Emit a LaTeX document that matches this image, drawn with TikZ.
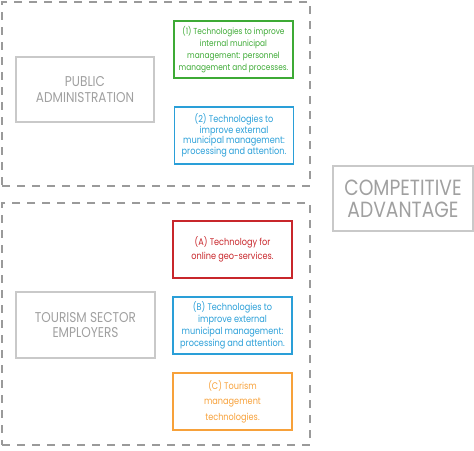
\documentclass[tikz,border=0pt]{standalone}
\usepackage{fontspec}
\setmainfont{Poppins}[FakeStretch=0.85]
\definecolor{cgreen}{HTML}{3DAA35}
\definecolor{cblue}{HTML}{2A9FD8}
\definecolor{cred}{HTML}{C8262B}
\definecolor{corange}{HTML}{F7A13A}
\definecolor{cgraytext}{HTML}{A0A0A0}
\definecolor{cgrayline}{HTML}{C9C9C9}
\definecolor{cdash}{HTML}{9A9A9A}
\tikzset{
  group/.style={draw=cdash, line width=2pt, dash pattern=on 8pt off 7pt, minimum width=308pt},
  actor/.style={draw=cgrayline, line width=1.4pt, text=cgraytext, align=center, font=\fontsize{14.2}{15.5}\selectfont, inner sep=0pt},
  tech/.style={line width=1.4pt, align=center, minimum width=119pt, minimum height=57pt, inner sep=0pt},
}
\begin{document}
\begin{tikzpicture}[x=1pt,y=-1pt]
\useasboundingbox (0,0) rectangle (474,450);
\node[group, minimum height=184pt] (g1) at (156,94) {};
\node[group, minimum height=242pt] (g2) at (156,324) {};
\node[actor, minimum width=138pt, minimum height=65pt] (pa) at (85,89.5) {PUBLIC\\ADMINISTRATION};
\node[actor, minimum width=139pt, minimum height=66pt] (ts) at (85.5,325) {TOURISM SECTOR\\EMPLOYERS};
\node[actor, minimum width=140pt, minimum height=65pt, font=\fontsize{22}{22}\selectfont] (ca) at (403,198.5) {COMPETITIVE\\ADVANTAGE};
\node[tech, draw=cgreen, text=cgreen, font=\fontsize{8.7}{12}\selectfont] (t1) at (233.5,49.5) {(1) Technologies to improve\\internal municipal\\management: personnel\\management and processes.};
\node[tech, draw=cblue, text=cblue, font=\fontsize{9.6}{10.6}\selectfont] (t2) at (234,135.5) {(2) Technologies to\\improve external\\municipal management:\\processing and attention.};
\node[tech, draw=cred, text=cred, font=\fontsize{9.6}{14}\selectfont] (ta) at (232.5,249.5) {(A) Technology for\\online geo-services.};
\node[tech, draw=cblue, text=cblue, font=\fontsize{9.6}{11.8}\selectfont] (tb) at (232.5,325.5) {(B) Technologies to\\improve external\\municipal management:\\processing and attention.};
\node[tech, draw=corange, text=corange, font=\fontsize{9.6}{15.5}\selectfont] (tc) at (232.5,401.5) {(C) Tourism\\management\\technologies.};
\end{tikzpicture}
\end{document}
